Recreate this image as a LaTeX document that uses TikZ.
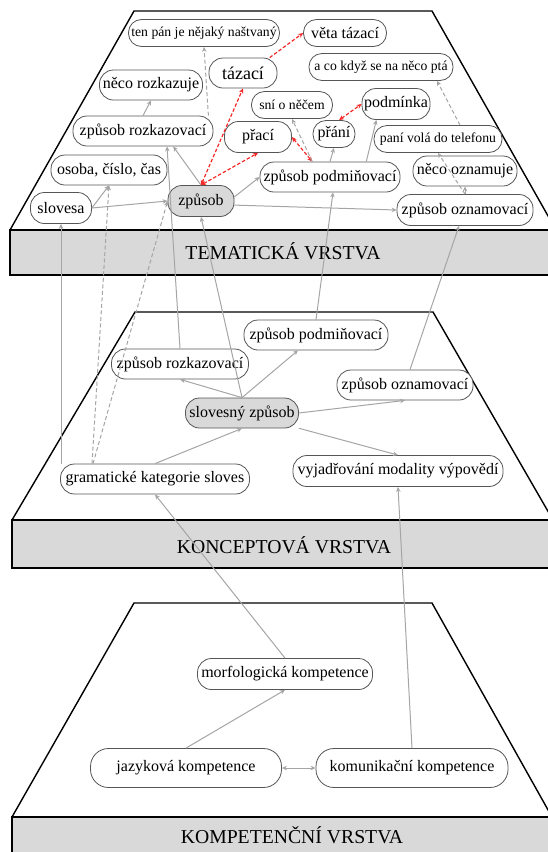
\documentclass[tikz,border=0pt]{standalone}
\usepackage{fontspec}
\setmainfont{Liberation Serif}
\usetikzlibrary{arrows.meta}
\definecolor{sediva}{RGB}{165,165,165}
\definecolor{obrys}{RGB}{85,85,85}
\definecolor{podklad}{RGB}{217,217,217}
\definecolor{cervena}{RGB}{245,40,40}

\begin{document}
\begin{tikzpicture}[x=1pt, y=-1pt, >={Stealth[length=5pt,width=4.5pt]},
	uzel/.style={draw=obrys, line width=0.8pt, fill=white, rounded corners=14pt, minimum height=30pt, inner xsep=2pt, inner ysep=0pt, font=\fontsize{16}{16}\selectfont},
	maly/.style={uzel, rounded corners=13pt, minimum height=27pt, font=\fontsize{13.7}{14}\selectfont},
	sedy/.style={uzel, fill=podklad},
	hrana/.style={draw=sediva, line width=1pt, ->},
	prerus/.style={hrana, dash pattern=on 4pt off 2.5pt},
	cerv/.style={draw=cervena, line width=1.2pt, dash pattern=on 3.5pt off 2pt, <->},
	vrstva/.style={draw=black, line width=1.4pt},
	titul/.style={font=\fontsize{19.7}{20}\selectfont}]

	\useasboundingbox (0,0) rectangle (547,852);

	\draw[vrstva] (10,230) -- (134,11) -- (432,11) -- (556,230);
	\draw[vrstva, fill=podklad] (10,230) rectangle (565,275);
	\node[titul] (tv) at (283,251) {TEMATICKÁ VRSTVA};

	\draw[vrstva] (12,520) -- (135,312) -- (433,312) -- (553,520);
	\draw[vrstva, fill=podklad] (12,520) rectangle (565,568);
	\node[titul] (kv) at (284,545) {KONCEPTOVÁ VRSTVA};

	\draw[vrstva] (12,817) -- (134,603) -- (432,603) -- (552,817);
	\draw[vrstva, fill=podklad] (12,817) rectangle (565,875);
	\node[titul] (pv) at (292,835) {KOMPETENČNÍ VRSTVA};

	% tematicka vrstva
	\node[maly, minimum width=151pt] (tpn) at (204,33) {ten pán je nějaký naštvaný};
	\node[uzel, minimum width=83pt, minimum height=27pt, rounded corners=13pt] (vt) at (345,33) {věta tázací};
	\node[uzel, minimum width=68pt, font=\fontsize{18}{18}\selectfont] (taz) at (243,73) {tázací};
	\node[maly, minimum width=144pt] (acks) at (381,67) {a co když se na něco ptá};
	\node[uzel, minimum width=103pt] (nr) at (151,85) {něco rozkazuje};
	\node[maly, minimum width=81pt] (sni) at (292,105) {sní o něčem};
	\node[uzel, minimum width=68pt, minimum height=31pt] (pdm) at (396,104) {podmínka};
	\node[uzel, minimum width=140pt] (zrT) at (143,131) {způsob rozkazovací};
	\node[uzel, minimum width=67pt, minimum height=31pt] (prc) at (258,137) {přací};
	\node[uzel, minimum width=42pt, minimum height=27pt, rounded corners=13pt] (prn) at (334,134) {přání};
	\node[maly, minimum width=128pt] (pvt) at (438,139) {paní volá do telefonu};
	\node[uzel, minimum width=116pt] (occ) at (109,170) {osoba, číslo, čas};
	\node[uzel, minimum width=140pt] (zpT) at (330,177) {způsob podmiňovací};
	\node[uzel, minimum width=104pt] (noz) at (465,171) {něco oznamuje};
	\node[uzel, minimum width=61pt, minimum height=31pt] (slv) at (61,208) {slovesa};
	\node[sedy, minimum width=66pt, minimum height=31pt] (zps) at (201,201) {způsob};
	\node[uzel, minimum width=136pt, minimum height=31pt] (zoT) at (465,210) {způsob oznamovací};

	% konceptova vrstva
	\node[uzel, minimum width=144pt] (zpK) at (316,335) {způsob podmiňovací};
	\node[uzel, minimum width=137pt] (zrK) at (180,364) {způsob rozkazovací};
	\node[uzel, minimum width=136pt] (zoK) at (405,385) {způsob oznamovací};
	\node[sedy, minimum width=113pt] (szp) at (242,413) {slovesný způsob};
	\node[uzel, minimum width=189pt] (gks) at (155,479) {gramatické kategorie sloves};
	\node[uzel, minimum width=210pt, minimum height=31pt] (vmv) at (398,471) {vyjadřování modality výpovědí};

	% kompetencni vrstva
	\node[uzel, minimum width=175pt, minimum height=31pt] (mk) at (285,674) {morfologická kompetence};
	\node[uzel, minimum width=191pt, minimum height=39pt, rounded corners=18pt] (jk) at (186,768) {jazyková kompetence};
	\node[uzel, minimum width=192pt, minimum height=39pt, rounded corners=18pt] (kk) at (412,768) {komunikační kompetence};

	\draw[hrana] (slv.east) -- (occ.south);
	\draw[hrana] (slv.east) -- (zps.west);
	\draw[hrana] (zps.7) -- (zpT.west);
	\draw[hrana] (zps.-7) -- (zoT.west);
	\draw[hrana] (zps.north) -- (zrT.-27);
	\draw[hrana] (zrT.north) -- (nr.south);
	\draw[prerus] ([xshift=-5pt]zrT.north east) -- (tpn.south);
	\draw[cerv] (zps.north) -- (taz.south);
	\draw[cerv] (zps.north) -- (prc.south);
	\draw[cerv, ->] (taz.30) -- (vt.west);
	\draw[cerv] (prc.east) -- (zpT.139);
	\draw[cerv] (prn.70) -- (pdm.west);
	\draw[prerus] (zpT.139) -- (sni.south);
	\draw[hrana] (zpT.north) -- (prn.south);
	\draw[hrana] (zpT.23) -- (pdm.-141);
	\draw[hrana] (zoT.north) -- (noz.south);
	\draw[prerus] (zoT.north) -- (pvt.south);
	\draw[prerus] ([xshift=22pt]pvt.north) -- ([xshift=56pt]acks.south);

	\draw[hrana] (slv.south |- gks.north) -- (slv.south);
	\draw[prerus] ([xshift=-63pt]gks.north) -- (occ.south);
	\draw[prerus] ([xshift=-62pt]gks.north) -- (zps.west);
	\draw[hrana] (zrK.north) -- ([xshift=24pt]zrT.south);
	\draw[hrana] (szp.north) -- (zps.south);
	\draw[hrana] (zpK.north) -- ([xshift=3pt]zpT.south);
	\draw[hrana] ([xshift=5pt]zoK.north) -- ([xshift=-6pt]zoT.south);

	\draw[hrana] (szp.north) -- (zrK.south);
	\draw[hrana] (szp.north) -- ([xshift=-18pt]zpK.south);
	\draw[hrana] (szp.east) -- (zoK.south);
	\draw[hrana] (szp.-15) -- (vmv.north);
	\draw[hrana] (gks.north) -- (szp.south);

	\draw[hrana] (mk.north) -- (gks.south);
	\draw[hrana] (kk.north) -- (vmv.south);
	\draw[hrana] (jk.north) -- (mk.south);
	\draw[hrana, <->] (jk.east) -- (kk.west);

\end{tikzpicture}
\end{document}
